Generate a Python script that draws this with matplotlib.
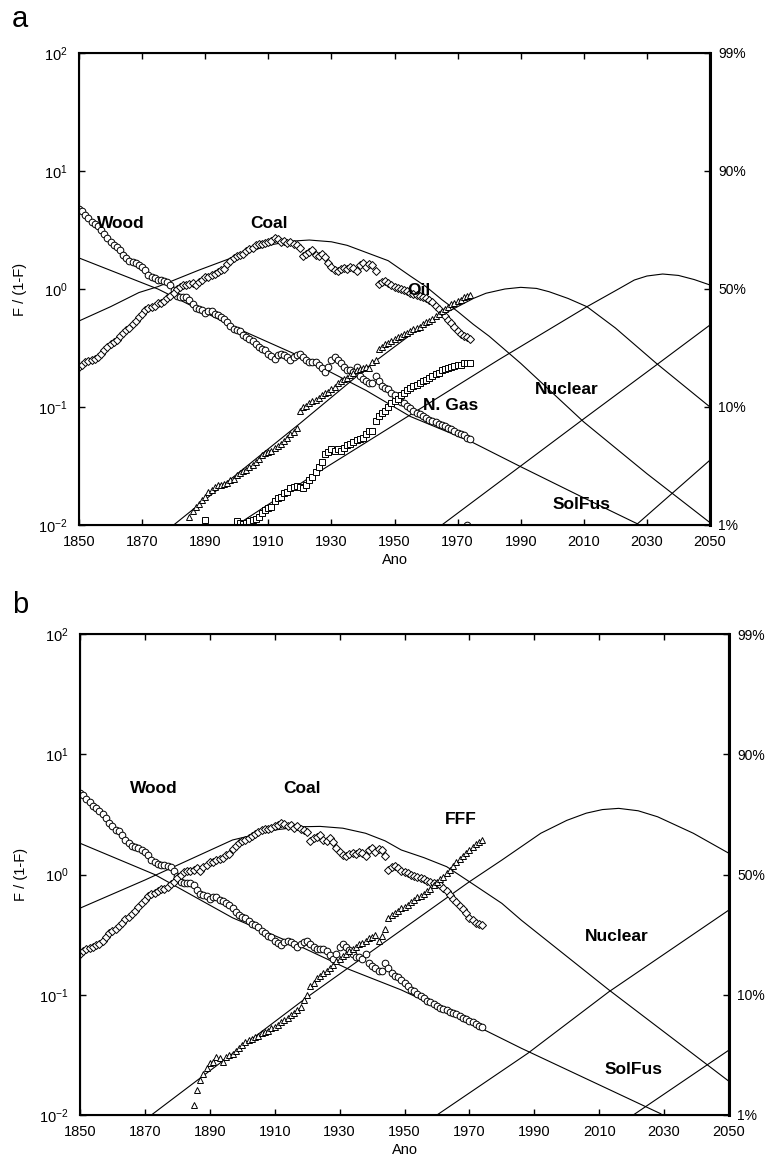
"""
    Logistic substitution plots of primary energy shares, F/(1-F) vs year
"""
import numpy as np
import matplotlib
matplotlib.use("Agg")
import matplotlib.pyplot as plt
from matplotlib.ticker import LogFormatterMathtext, NullLocator

plt.rcParams['font.family'] = ['Liberation Sans', 'DejaVu Sans']
plt.rcParams['mathtext.default'] = 'regular'

# ---- data: log10(F/(1-F)) ----
years_wc = np.arange(1850, 1975)
wood_log = [
    0.68, 0.66, 0.63, 0.60, 0.57, 0.55, 0.53, 0.50, 0.47, 0.43,
    0.40, 0.37, 0.36, 0.33, 0.29, 0.26, 0.24, 0.23, 0.22, 0.20,
    0.19, 0.16, 0.12, 0.10, 0.09, 0.08, 0.08, 0.07, 0.06, 0.03,
    -0.01, -0.06, -0.07, -0.07, -0.07, -0.09, -0.13, -0.16, -0.17, -0.18,
    -0.20, -0.19, -0.19, -0.21, -0.22, -0.24, -0.25, -0.28, -0.31, -0.34,
    -0.35, -0.36, -0.39, -0.41, -0.42, -0.44, -0.47, -0.49, -0.51, -0.52,
    -0.55, -0.57, -0.59, -0.56, -0.55, -0.56, -0.58, -0.60, -0.58, -0.56,
    -0.55, -0.58, -0.60, -0.62, -0.62, -0.62, -0.64, -0.67, -0.70, -0.66,
    -0.60, -0.58, -0.60, -0.63, -0.66, -0.69, -0.69, -0.70, -0.66, -0.74,
    -0.76, -0.78, -0.80, -0.80, -0.74, -0.78, -0.82, -0.84, -0.85, -0.88,
    -0.90, -0.93, -0.96, -0.97, -0.99, -1.01, -1.03, -1.05, -1.06, -1.08,
    -1.09, -1.11, -1.12, -1.13, -1.14, -1.15, -1.16, -1.18, -1.19, -1.20,
    -1.22, -1.23, -1.24, -1.26, -1.27,
]
coal_log = [
    -0.66, -0.64, -0.62, -0.61, -0.60, -0.59, -0.58, -0.55, -0.52, -0.49,
    -0.47, -0.45, -0.43, -0.40, -0.37, -0.35, -0.33, -0.30, -0.27, -0.24,
    -0.21, -0.18, -0.16, -0.15, -0.14, -0.12, -0.12, -0.10, -0.08, -0.06,
    -0.03, 0.00, 0.02, 0.03, 0.03, 0.04, 0.05, 0.03, 0.06, 0.08,
    0.10, 0.10, 0.12, 0.13, 0.14, 0.16, 0.17, 0.21, 0.24, 0.26,
    0.28, 0.29, 0.30, 0.32, 0.34, 0.35, 0.37, 0.38, 0.38, 0.39,
    0.40, 0.41, 0.43, 0.42, 0.40, 0.41, 0.39, 0.40, 0.38, 0.37,
    0.35, 0.28, 0.30, 0.31, 0.33, 0.29, 0.28, 0.30, 0.27, 0.22,
    0.19, 0.16, 0.15, 0.17, 0.18, 0.17, 0.19, 0.18, 0.15, 0.20,
    0.22, 0.19, 0.21, 0.20, 0.15, 0.04, 0.06, 0.07, 0.05, 0.03,
    0.02, 0.01, 0.00, -0.01, -0.02, -0.03, -0.04, -0.05, -0.06, -0.07,
    -0.08, -0.09, -0.11, -0.14, -0.17, -0.20, -0.23, -0.26, -0.29, -0.32,
    -0.36, -0.38, -0.40, -0.41, -0.42,
]
years_oil = np.arange(1885, 1975)
oil_log = [
    -1.93, -1.88, -1.85, -1.82, -1.79, -1.76, -1.72, -1.70, -1.68, -1.66,
    -1.66, -1.65, -1.64, -1.62, -1.61, -1.58, -1.56, -1.54, -1.53, -1.51,
    -1.49, -1.47, -1.44, -1.41, -1.39, -1.38, -1.37, -1.35, -1.33, -1.31,
    -1.29, -1.26, -1.23, -1.21, -1.18, -1.03, -1.00, -0.99, -0.97, -0.95,
    -0.94, -0.92, -0.90, -0.88, -0.87, -0.85, -0.83, -0.80, -0.78, -0.76,
    -0.75, -0.73, -0.71, -0.69, -0.68, -0.67, -0.66, -0.67, -0.62, -0.60,
    -0.51, -0.49, -0.47, -0.46, -0.44, -0.42, -0.41, -0.40, -0.38, -0.37,
    -0.36, -0.34, -0.33, -0.32, -0.30, -0.28, -0.27, -0.25, -0.23, -0.21,
    -0.19, -0.17, -0.15, -0.13, -0.12, -0.10, -0.09, -0.07, -0.06, -0.05,
]
years_gas = np.r_[1890, np.arange(1900, 1975)]
gas_log = [
    -1.96,
    -1.97, -1.98, -1.99, -1.98, -1.97, -1.96, -1.95, -1.93, -1.90, -1.87,
    -1.86, -1.85, -1.80, -1.77, -1.76, -1.73, -1.72, -1.69, -1.68, -1.67,
    -1.68, -1.69, -1.66, -1.62, -1.59, -1.55, -1.51, -1.47, -1.40, -1.38,
    -1.36, -1.37, -1.36, -1.37, -1.35, -1.32, -1.31, -1.30, -1.28, -1.27,
    -1.26, -1.23, -1.20, -1.20, -1.12, -1.08, -1.05, -1.03, -1.00, -0.97,
    -0.95, -0.93, -0.90, -0.88, -0.86, -0.84, -0.82, -0.81, -0.80, -0.78,
    -0.77, -0.75, -0.74, -0.72, -0.71, -0.69, -0.68, -0.67, -0.66, -0.65,
    -0.64, -0.64, -0.63, -0.63, -0.63,
]
fff_log = [
    -1.92, -1.79, -1.71, -1.66, -1.61, -1.57, -1.56, -1.52, -1.53, -1.56,
    -1.52, -1.50, -1.49, -1.47, -1.44, -1.42, -1.39, -1.38, -1.37, -1.35,
    -1.34, -1.32, -1.31, -1.30, -1.28, -1.27, -1.25, -1.23, -1.21, -1.19,
    -1.17, -1.15, -1.13, -1.10, -1.04, -1.00, -0.93, -0.90, -0.86, -0.84,
    -0.82, -0.80, -0.78, -0.75, -0.72, -0.70, -0.68, -0.66, -0.64, -0.62,
    -0.60, -0.58, -0.57, -0.55, -0.53, -0.52, -0.50, -0.55, -0.51, -0.45,
    -0.36, -0.34, -0.32, -0.30, -0.28, -0.27, -0.25, -0.23, -0.21, -0.19,
    -0.18, -0.16, -0.14, -0.12, -0.09, -0.06, -0.04, -0.02, 0.01, 0.04,
    0.07, 0.10, 0.13, 0.15, 0.18, 0.20, 0.23, 0.25, 0.27, 0.29,
]
nuclear_pt_year = [1973]
nuclear_pt_log = [-2.0]

# ---- model curves (panel a) ----
wood_fit_a_x = [1850, 1875, 1899, 1920, 1941, 1955, 1974, 1990, 2010, 2027]
wood_fit_a_y = [0.263, 0.0, -0.32, -0.57, -0.86, -1.08, -1.29, -1.506, -1.77, -1.99]
coal_fit_a_x = [1850, 1860, 1869, 1875, 1888, 1899, 1910, 1917, 1923, 1930, 1935,
                1941, 1948, 1955, 1960, 1965, 1970, 1975, 1980, 1990, 2010, 2030, 2050]
coal_fit_a_y = [-0.271, -0.15, -0.03, 0.02, 0.16, 0.27, 0.37, 0.405, 0.415, 0.40, 0.37,
                0.31, 0.24, 0.11, 0.02, -0.09, -0.19, -0.30, -0.40, -0.63, -1.127, -1.565, -1.98]
oil_fit_a_x = [1880, 1920, 1943, 1955, 1960, 1965, 1970, 1975, 1979, 1985, 1990, 1995,
               1999, 2005, 2011, 2020, 2033, 2050]
oil_fit_a_y = [-2.0, -1.14, -0.63, -0.39, -0.30, -0.22, -0.15, -0.08, -0.036, 0.0, 0.014, 0.005,
               -0.023, -0.08, -0.15, -0.33, -0.63, -1.0]
gas_fit_a_x = [1900, 1923, 1950, 1983, 1997, 2011, 2021, 2026, 2030, 2035, 2040, 2045, 2050]
gas_fit_a_y = [-2.0, -1.6, -1.15, -0.6, -0.375, -0.15, 0.0, 0.076, 0.11, 0.127, 0.115, 0.08, 0.034]
nuc_fit_a_x = [1965, 1990, 2010, 2033, 2050]
nuc_fit_a_y = [-2.0, -1.50, -1.10, -0.644, -0.305]
sol_fit_a_x = [2027, 2050]
sol_fit_a_y = [-1.99, -1.45]

# ---- model curves (panel b) ----
wood_fit_b_x = [1850, 1873, 1897, 1918, 1933, 1949, 1964, 1986, 2029]
wood_fit_b_y = [0.26, 0.0, -0.36, -0.60, -0.79, -0.96, -1.15, -1.445, -1.99]
coal_fit_b_x = [1850, 1870, 1897, 1910, 1918, 1924, 1931, 1938, 1944, 1949, 1956, 1963,
                1970, 1980, 1986, 2013, 2050]
coal_fit_b_y = [-0.28, -0.046, 0.287, 0.37, 0.397, 0.40, 0.385, 0.343, 0.28, 0.204, 0.14, 0.065,
                -0.06, -0.24, -0.38, -0.96, -1.72]
fff_fit_b_x = [1872, 1920, 1970, 1980, 1992, 2000, 2006, 2011, 2016, 2022, 2028, 2039, 2050]
fff_fit_b_y = [-2.0, -1.02, -0.06, 0.12, 0.343, 0.45, 0.51, 0.54, 0.55, 0.53, 0.48, 0.343, 0.176]
nuc_fit_b_x = [1960, 1988, 2013, 2050]
nuc_fit_b_y = [-2.0, -1.487, -0.975, -0.295]
sol_fit_b_x = [2020.5, 2050]
sol_fit_b_y = [-2.0, -1.46]

right_labels = ['1%', '10%', '50%', '90%', '99%']
decades = [1e-2, 1e-1, 1e0, 1e1, 1e2]


def pw(v):
    return np.power(10.0, np.asarray(v, dtype=float))


def setup_axes(ax):
    ax.set_yscale('log')
    ax.set_xlim(1850, 2050)
    ax.set_ylim(1e-2, 1e2)
    ax.set_xticks(np.arange(1850, 2051, 20))
    ax.yaxis.set_major_formatter(LogFormatterMathtext())
    ax.yaxis.set_minor_locator(NullLocator())
    ax.tick_params(axis='both', direction='in', length=4, width=1,
                   labelsize=10.5, top=True, pad=7)
    ax.tick_params(axis='y', pad=8)
    for s in ax.spines.values():
        s.set_linewidth(1.5)
    ax.set_ylabel('F / (1-F)', fontsize=10.5, labelpad=8)
    ax.set_xlabel('Ano', fontsize=10.5, labelpad=3)

    ax2 = ax.twinx()
    ax2.set_yscale('log')
    ax2.set_ylim(1e-2, 1e2)
    ax2.set_yticks(decades)
    ax2.set_yticklabels(right_labels)
    ax2.yaxis.set_minor_locator(NullLocator())
    ax2.tick_params(axis='y', direction='in', length=4, width=1,
                    labelsize=10, pad=6)
    ax2.spines['right'].set_linewidth(2.2)


def fit_line(ax, x, y):
    ax.plot(x, pw(y), color='black', lw=0.8)


def points(ax, x, y, marker, ms):
    ax.plot(x, pw(y), linestyle='none', marker=marker, ms=ms,
            mfc='white', mec='black', mew=0.7)


def label(ax, x, y, s):
    ax.text(x, y, s, fontsize=12.5, fontweight='bold', ha='left', va='center')


fig = plt.figure(figsize=(7.69, 11.64), dpi=100)

# panel a
axa = fig.add_axes([79 / 769, 1 - 525 / 1164, 631 / 769, 472 / 1164])
setup_axes(axa)
fit_line(axa, wood_fit_a_x, wood_fit_a_y)
fit_line(axa, coal_fit_a_x, coal_fit_a_y)
fit_line(axa, oil_fit_a_x, oil_fit_a_y)
fit_line(axa, gas_fit_a_x, gas_fit_a_y)
fit_line(axa, nuc_fit_a_x, nuc_fit_a_y)
fit_line(axa, sol_fit_a_x, sol_fit_a_y)
points(axa, years_wc, wood_log, 'o', 4.8)
points(axa, years_wc, coal_log, 'D', 3.8)
points(axa, years_oil, oil_log, '^', 5.0)
points(axa, years_gas, gas_log, 's', 4.5)
points(axa, nuclear_pt_year, nuclear_pt_log, 'o', 4.8)
label(axa, 1855.7, 3.62, 'Wood')
label(axa, 1904.2, 3.62, 'Coal')
label(axa, 1954.0, 0.98, 'Oil')
label(axa, 1959.0, 0.102, 'N. Gas')
label(axa, 1994.5, 0.142, 'Nuclear')
label(axa, 2000.2, 0.0148, 'SolFus')

# panel b
axb = fig.add_axes([80 / 769, 1 - 1115 / 1164, 649 / 769, 481 / 1164])
setup_axes(axb)
fit_line(axb, wood_fit_b_x, wood_fit_b_y)
fit_line(axb, coal_fit_b_x, coal_fit_b_y)
fit_line(axb, fff_fit_b_x, fff_fit_b_y)
fit_line(axb, nuc_fit_b_x, nuc_fit_b_y)
fit_line(axb, sol_fit_b_x, sol_fit_b_y)
points(axb, years_wc, wood_log, 'o', 4.8)
points(axb, years_wc, coal_log, 'D', 3.8)
points(axb, years_oil, fff_log, '^', 5.0)
label(axb, 1865.4, 5.19, 'Wood')
label(axb, 1912.6, 5.19, 'Coal')
label(axb, 1962.5, 2.84, 'FFF')
label(axb, 2005.6, 0.304, 'Nuclear')
label(axb, 2011.8, 0.024, 'SolFus')

fig.text(12 / 769, 1 - 27 / 1164, 'a', fontsize=21, va='baseline')
fig.text(12 / 769, 1 - 613 / 1164, 'b', fontsize=21, va='baseline')

plt.savefig('out.png', dpi=100)
